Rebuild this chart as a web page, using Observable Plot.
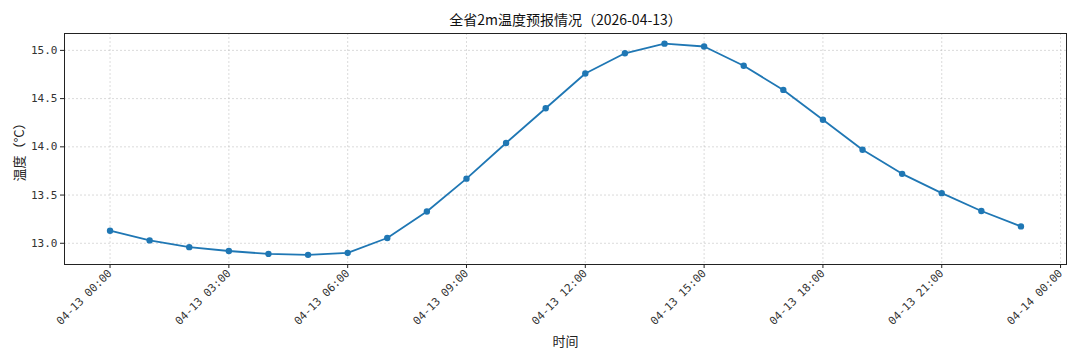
<!DOCTYPE html>
<html><head><meta charset="utf-8">
<script src="https://cdn.jsdelivr.net/npm/d3@7"></script>
<script src="https://cdn.jsdelivr.net/npm/@observablehq/plot@0.6"></script>
<style>body{margin:0;background:#fff}</style>
</head><body><div id="chart"></div>
<script>
const title = "全省2m温度预报情况（2026-04-13）";
const xLabel = "时间";
const yLabel = "温度（°C）";
const hours = [0,1,2,3,4,5,6,7,8,9,10,11,12,13,14,15,16,17,18,19,20,21,22,23];
const temps = [13.13,13.03,12.96,12.92,12.89,12.88,12.90,13.055,13.33,13.67,14.04,14.40,14.76,14.97,15.07,15.04,14.84,14.59,14.28,13.97,13.72,13.52,13.335,13.175];
const tickHours = [0,3,6,9,12,15,18,21,24];
const tickLabels = ["04-13 00:00","04-13 03:00","04-13 06:00","04-13 09:00","04-13 12:00","04-13 15:00","04-13 18:00","04-13 21:00","04-14 00:00"];
const yTicks = [13.0,13.5,14.0,14.5,15.0];

const base = Date.UTC(2026,3,13);
const H = 3600e3;
const data = hours.map((h,i)=>({t:new Date(base+h*H), v:temps[i]}));
const xTickDates = tickHours.map(h=>new Date(base+h*H));
const labelMap = new Map(xTickDates.map((d,i)=>[+d, tickLabels[i]]));
const xDomain = [new Date(base-1.15*H), new Date(base+24.15*H)];
const mono = "'DejaVu Sans Mono', 'Noto Sans CJK SC', monospace";
const cjk = "'Noto Sans CJK SC', sans-serif";

const chart = Plot.plot({
  width:1080, height:360,
  marginLeft:64, marginRight:14, marginTop:33, marginBottom:96,
  style:{fontFamily:cjk, fontSize:"12px", color:"#222", background:"#fff"},
  x:{type:"utc", domain:xDomain},
  y:{domain:[12.78,15.175]},
  marks:[
    Plot.gridX(xTickDates,{stroke:"#b0b0b0", strokeOpacity:0.45, strokeDasharray:"2,2"}),
    Plot.gridY(yTicks,{stroke:"#b0b0b0", strokeOpacity:0.45, strokeDasharray:"2,2"}),
    Plot.line(data,{x:"t",y:"v",stroke:"#1f77b4",strokeWidth:1.8}),
    Plot.dot(data,{x:"t",y:"v",fill:"#1f77b4",r:3.2}),
    Plot.frame({stroke:"#222"}),
    Plot.axisX({ticks:xTickDates, tickFormat:d=>labelMap.get(+d), tickRotate:-45, tickSize:4, tickPadding:3, label:null, fontSize:11, fontFamily:mono, fill:"#333"}),
    Plot.axisY({ticks:yTicks, tickFormat:d=>d.toFixed(1), tickSize:4, tickPadding:3, label:null, fontSize:11, fontFamily:mono, fill:"#333"}),
    Plot.text([xLabel],{frameAnchor:"bottom", lineAnchor:"middle", dy:77, fontSize:13, text:d=>d, fill:"#222"}),
    Plot.text([yLabel],{frameAnchor:"left", textAnchor:"middle", lineAnchor:"middle", dx:-45, rotate:-90, fontSize:13, text:d=>d, fill:"#222"}),
    Plot.text([title],{frameAnchor:"top", lineAnchor:"middle", dy:-13, fontSize:14, text:d=>d, fill:"#111"})
  ]
});
document.getElementById("chart").appendChild(chart);
</script>
</body></html>
